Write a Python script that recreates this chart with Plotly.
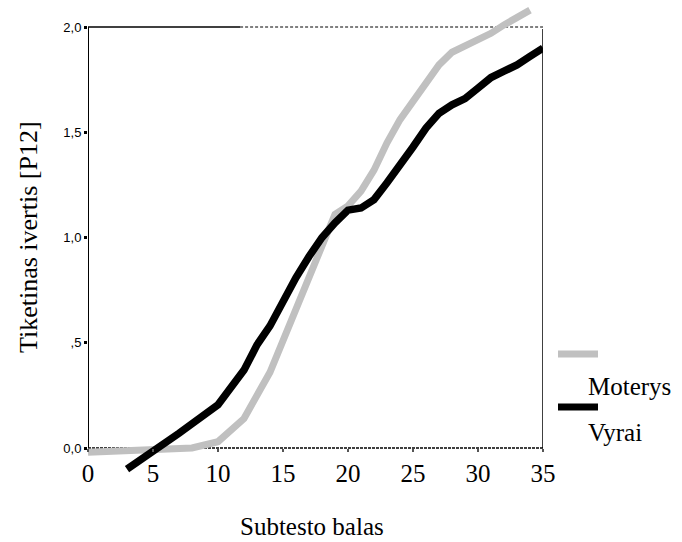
import plotly.graph_objects as go

# Data
moterys_x = [0, 5, 8, 10, 12, 14, 16, 18, 19, 20, 21, 22, 23, 24, 25, 26, 27, 28, 30, 31, 32, 34]
moterys_y = [-0.02, -0.01, 0.0, 0.03, 0.14, 0.36, 0.66, 0.96, 1.11, 1.15, 1.22, 1.32, 1.45, 1.56, 1.65, 1.74, 1.82, 1.88, 1.94, 1.97, 2.01, 2.08]

vyrai_x = [3, 5, 6, 7, 8, 10, 12, 13, 14, 15, 16, 17, 18, 19, 20, 21, 22, 23, 24, 25, 26, 27, 28, 29, 30, 31, 32, 33, 34, 35]
vyrai_y = [-0.10, -0.02, 0.025, 0.07, 0.115, 0.205, 0.37, 0.49, 0.58, 0.70, 0.81, 0.91, 1.00, 1.07, 1.13, 1.14, 1.18, 1.26, 1.34, 1.43, 1.52, 1.59, 1.63, 1.66, 1.71, 1.76, 1.79, 1.82, 1.86, 1.90]

x_ticks = [0, 5, 10, 15, 20, 25, 30, 35]
y_ticks = [0, 0.5, 1.0, 1.5, 2.0]
y_tick_labels = ["0,0", ",5", "1,0", "1,5", "2,0"]

series_names = ["Moterys", "Vyrai"]
series_colors = ["#c0c0c0", "#000000"]

# Page geometry (pixels)
W, H = 682, 542
ML, MR, MT, MB = 88, 139, 2, 64
PX_LEFT, PX_RIGHT = ML, W - MR
PX_TOP, PX_BOTTOM = MT, H - MB
Y0_PX, Y2_PX = 448, 27           # pixel rows of y=0 and y=2
ppu = (Y0_PX - Y2_PX) / 2.0
y_hi = 2 + (Y2_PX - PX_TOP) / ppu
y_lo = -(PX_BOTTOM - Y0_PX) / ppu


def fx(px):
    return (px - PX_LEFT) / (PX_RIGHT - PX_LEFT)


def fy(py):
    return (PX_BOTTOM - py) / (PX_BOTTOM - PX_TOP)


fig = go.Figure()
fig.add_trace(go.Scatter(x=moterys_x, y=moterys_y, mode="lines", name=series_names[0],
                         line=dict(color=series_colors[0], width=7), showlegend=False))
fig.add_trace(go.Scatter(x=vyrai_x, y=vyrai_y, mode="lines", name=series_names[1],
                         line=dict(color=series_colors[1], width=7.5), showlegend=False))

# Frame: left solid, top solid then dashed, bottom dashed, right solid
fig.add_shape(type="line", xref="x", yref="y", x0=0, x1=0, y0=0, y1=2,
              line=dict(color="black", width=2), layer="below")
fig.add_shape(type="line", xref="x", yref="y", x0=0, x1=11.7, y0=2, y1=2,
              line=dict(color="black", width=1.5), layer="below")
fig.add_shape(type="line", xref="x", yref="y", x0=11.7, x1=35, y0=2, y1=2,
              line=dict(color="black", width=1, dash="3px,2px"), layer="below")
fig.add_shape(type="line", xref="x", yref="y", x0=0, x1=35, y0=0, y1=0,
              line=dict(color="black", width=1.5, dash="3px,1px"), layer="below")
fig.add_shape(type="line", xref="x", yref="y", x0=35, x1=35, y0=0, y1=1.99,
              line=dict(color="black", width=1.5), layer="below")

# Custom legend (symbol above its label)
legend_line_py = [354, 407]
legend_text_py = [386, 432]
for i in range(2):
    fig.add_shape(type="line", xref="paper", yref="paper", x0=fx(558), x1=fx(598),
                  y0=fy(legend_line_py[i]), y1=fy(legend_line_py[i]),
                  line=dict(color=series_colors[i], width=7))
    fig.add_annotation(text=series_names[i], xref="paper", yref="paper",
                       x=fx(586), y=fy(legend_text_py[i]), xanchor="left", yanchor="middle",
                       showarrow=False,
                       font=dict(family="Liberation Serif", size=25, color="black"))

# Axis titles
fig.add_annotation(text="Subtesto balas", xref="paper", yref="paper",
                   x=fx(312), y=fy(526), xanchor="center", yanchor="middle",
                   showarrow=False, font=dict(family="Liberation Serif", size=25, color="black"))
fig.add_annotation(text="Tiketinas ivertis [P12]", xref="paper", yref="paper",
                   x=fx(28), y=fy(237), xanchor="center", yanchor="middle", textangle=-90,
                   showarrow=False, font=dict(family="Liberation Serif", size=26, color="black"))

fig.update_layout(
    width=W, height=H,
    margin=dict(l=ML, r=MR, t=MT, b=MB),
    paper_bgcolor="white", plot_bgcolor="white",
    xaxis=dict(range=[0, 35], tickvals=x_ticks, ticktext=[str(v) for v in x_ticks],
               anchor="free", position=fy(Y0_PX),
               showgrid=False, zeroline=False, showline=False,
               ticks="outside", ticklen=3, tickwidth=2, tickcolor="#555555",
               tickfont=dict(family="Liberation Serif", size=25, color="black")),
    yaxis=dict(range=[y_lo, y_hi], tickvals=y_ticks, ticktext=y_tick_labels,
               showgrid=False, zeroline=False, showline=False,
               ticks="outside", ticklen=3, tickwidth=3, tickcolor="black",
               tickfont=dict(family="Liberation Sans", size=13, color="black")),
)

fig.write_html("out.html")
